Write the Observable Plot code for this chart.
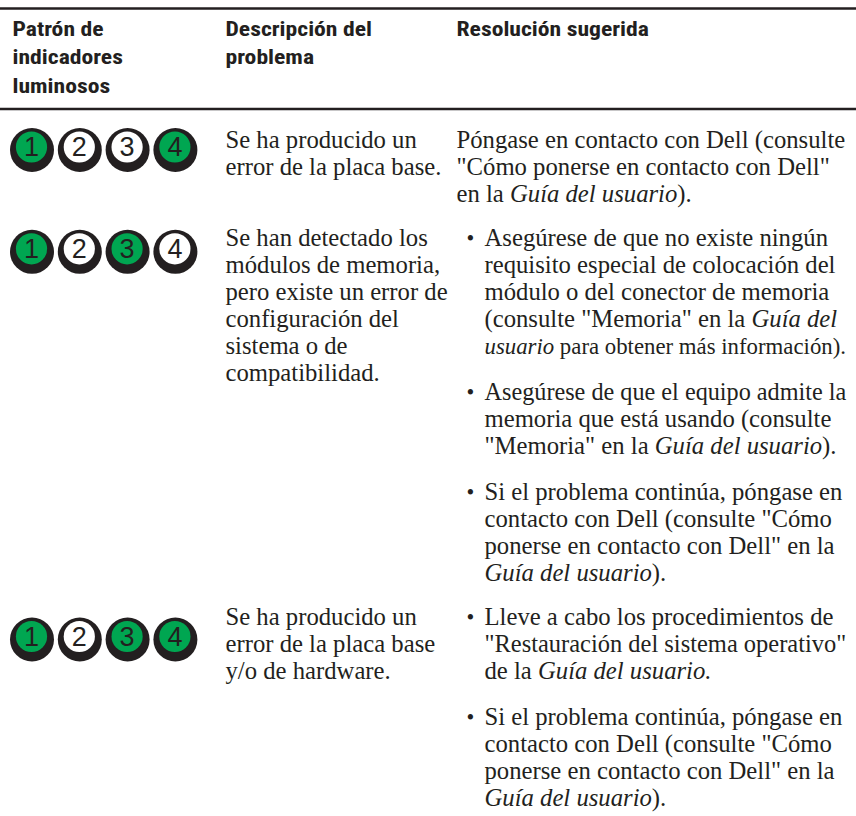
<!DOCTYPE html>
<html>
<head>
<meta charset="utf-8">
<script src="https://cdn.jsdelivr.net/npm/d3@7"></script>
<script src="https://cdn.jsdelivr.net/npm/@observablehq/plot@0.6"></script>
<style>
  html, body { margin: 0; padding: 0; background: #fff; }
  #chart svg { display: block; }
</style>
</head>
<body>
<div id="chart"></div>
<script>
// ---------- DATA ----------
const headerCol1 = ["Patrón de", "indicadores", "luminosos"];
const headerCol2 = ["Descripción del", "problema"];
const headerCol3 = ["Resolución sugerida"];

// light pattern per row: 1 = lit (green), 0 = off (white)
const pattern1 = [1, 0, 0, 1];
const pattern2 = [1, 0, 1, 0];
const pattern3 = [1, 0, 1, 1];
const lightLabels = ["1", "2", "3", "4"];

const description1 = ["Se ha producido un", "error de la placa base."];
const description2 = ["Se han detectado los", "módulos de memoria,", "pero existe un error de",
  "configuración del", "sistema o de", "compatibilidad."];
const description3 = ["Se ha producido un", "error de la placa base", "y/o de hardware."];

// *...* marks italic text
const resolution1 = [
  { bullet: false, lines: ["Póngase en contacto con Dell (consulte", "\"Cómo ponerse en contacto con Dell\"", "en la *Guía del usuario*)."] }
];
const resolution2 = [
  { bullet: true, lines: ["Asegúrese de que no existe ningún", "requisito especial de colocación del",
    "módulo o del conector de memoria", "(consulte \"Memoria\" en la *Guía del*",
    "*usuario* para obtener más información)."] },
  { bullet: true, lines: ["Asegúrese de que el equipo admite la", "memoria que está usando (consulte",
    "\"Memoria\" en la *Guía del usuario*)."] },
  { bullet: true, lines: ["Si el problema continúa, póngase en", "contacto con Dell (consulte \"Cómo",
    "ponerse en contacto con Dell\" en la", "*Guía del usuario*)."] }
];
const resolution3 = [
  { bullet: true, lines: ["Lleve a cabo los procedimientos de", "\"Restauración del sistema operativo\"",
    "de la *Guía del usuario.*"] },
  { bullet: true, lines: ["Si el problema continúa, póngase en", "contacto con Dell (consulte \"Cómo",
    "ponerse en contacto con Dell\" en la", "*Guía del usuario*)."] }
];

const patterns = [pattern1, pattern2, pattern3];
const descriptions = [description1, description2, description3];
const resolutions = [resolution1, resolution2, resolution3];

// ---------- LAYOUT ----------
const W = 856, H = 816;
const colX = [12, 225, 456];
const colRight = [200, 450, 846];
const bulletX = 466, bulletTextX = 484;
const headerBaseline0 = 35.5, headerLH = 28.3;
const ruleYs = [8, 108.5];
const firstBaseline = 147, LH = 27.1, GAP_ROW = 17, GAP_PARA = 18.5;
const circleX0 = 31.5, circleDX = 47.8;
const circleDY = [1, 4.5, 13];
const GREEN = "#00a651", INK = "#231f20";

const ctx = document.createElement("canvas").getContext("2d");
function has(family, weight) {
  const probe = "Patrón indicadores luminosos 1234";
  ctx.font = `${weight} 40px monospace`; const a = ctx.measureText(probe).width;
  ctx.font = `${weight} 40px "${family}", monospace`; const b = ctx.measureText(probe).width;
  return Math.abs(a - b) > 0.5;
}
function pick(list, weight) { for (const f of list) if (has(f, weight)) return f; return list[list.length - 1]; }
const headFamily = pick(["Liberation Sans Narrow", "Roboto Condensed", "DejaVu Sans Condensed", "Liberation Sans"], "bold");
const serifFamily = pick(["Liberation Serif", "DejaVu Serif"], "normal");

const headSize = 21;
ctx.font = `bold ${headSize}px "${headFamily}"`;
const headScale = 91 / ctx.measureText("Patrón de").width;
ctx.font = `22px "${serifFamily}"`;
const serifSize = 22 * 389 / ctx.measureText("Póngase en contacto con Dell (consulte").width;

// ---------- BUILD TABLE ----------
const headerRows = [];
[headerCol1, headerCol2, headerCol3].forEach((col, c) =>
  col.forEach((t, k) => headerRows.push({ x: colX[c], y: headerBaseline0 + k * headerLH, text: t })));

const textRows = [], bulletRows = [], lightRows = [];
let y = firstBaseline;
resolutions.forEach((res, i) => {
  const top = y;
  patterns[i].forEach((on, j) =>
    lightRows.push({ x: circleX0 + j * circleDX, y: top + circleDY[i], on, label: lightLabels[j] }));
  descriptions[i].forEach((t, k) => textRows.push({ x: colX[1], y: top + k * LH, text: t }));
  let yy = top;
  res.forEach((p, pi) => {
    if (pi > 0) yy += GAP_PARA;
    if (p.bullet) bulletRows.push({ x: bulletX, y: yy, text: "•" });
    p.lines.forEach(t => { textRows.push({ x: p.bullet ? bulletTextX : colX[2], y: yy, text: t }); yy += LH; });
  });
  y = Math.max(yy, top + descriptions[i].length * LH) + GAP_ROW;
});

const chart = Plot.plot({
  width: W, height: H,
  margin: 0,
  x: { domain: [0, W], range: [0, W], axis: null },
  y: { domain: [0, H], range: [0, H], axis: null },
  style: { background: "#fff", overflow: "visible" },
  marks: [
    Plot.ruleY(ruleYs, { y: d => d, x1: 0, x2: W, stroke: INK, strokeWidth: 2.4 }),
    Plot.text(headerRows, {
      x: "x", y: "y", text: "text", textAnchor: "start", lineAnchor: "bottom",
      fontFamily: headFamily, fontWeight: "bold", fontSize: headSize, fill: INK
    }),
    // LED rings (black, offset down for the shadowed bottom)
    Plot.dot(lightRows, { x: d => d.x, y: d => d.y + 1.5, r: 22, fill: INK, stroke: "none" }),
    Plot.dot(lightRows, { x: d => d.x - 0.5, y: d => d.y - 1.5, r: 15.6, fill: d => d.on ? GREEN : "#fff", stroke: "none" }),
    Plot.text(lightRows, {
      x: d => d.x - 0.5, y: d => d.y - 1, text: "label", textAnchor: "middle", lineAnchor: "middle",
      fontFamily: "Liberation Sans", fontSize: 27, fill: INK
    }),
    Plot.text(textRows, {
      x: "x", y: "y", text: "text", textAnchor: "start", lineAnchor: "bottom",
      fontFamily: serifFamily, fontSize: serifSize, fill: INK
    }),
    Plot.text(bulletRows, {
      x: "x", y: "y", text: "text", textAnchor: "start", lineAnchor: "bottom",
      fontFamily: serifFamily, fontSize: serifSize * 0.9, fill: INK
    })
  ]
});

const headerSet = new Set(headerRows.map(d => d.text));
const bodyTexts = [];
chart.querySelectorAll("text").forEach(t => {
  const s = t.textContent;
  // condense header horizontally
  if (headerSet.has(s)) {
    const tx = t.getAttribute("x"), ty = t.getAttribute("y");
    if (tx != null && ty != null) {
      t.removeAttribute("x"); t.removeAttribute("y");
      t.setAttribute("transform", `translate(${tx},${ty}) scale(${headScale},1)`);
    } else {
      t.setAttribute("transform", (t.getAttribute("transform") || "") + ` scale(${headScale},1)`);
    }
    return;
  }
  if (s.length > 3) bodyTexts.push(t);
  // italic runs
  if (!s.includes("*")) return;
  while (t.firstChild) t.removeChild(t.firstChild);
  s.split("*").forEach((seg, k) => {
    if (!seg) return;
    const ts = document.createElementNS("http://www.w3.org/2000/svg", "tspan");
    if (k % 2 === 1) ts.setAttribute("font-style", "italic");
    ts.textContent = seg;
    t.appendChild(ts);
  });
});

document.getElementById("chart").appendChild(chart);

// keep long lines inside their column (shrink slightly if needed)
bodyTexts.forEach(t => {
  const b = t.getBBox();
  const ctm = t.getCTM();
  const left = ctm ? ctm.e + b.x : b.x;
  const limit = left < colX[2] - 5 ? colRight[1] : colRight[2];
  const w = t.getComputedTextLength();
  if (left + w > limit) {
    t.setAttribute("font-size", (serifSize * (limit - left) / w).toFixed(2));
  }
});
</script>
</body>
</html>
